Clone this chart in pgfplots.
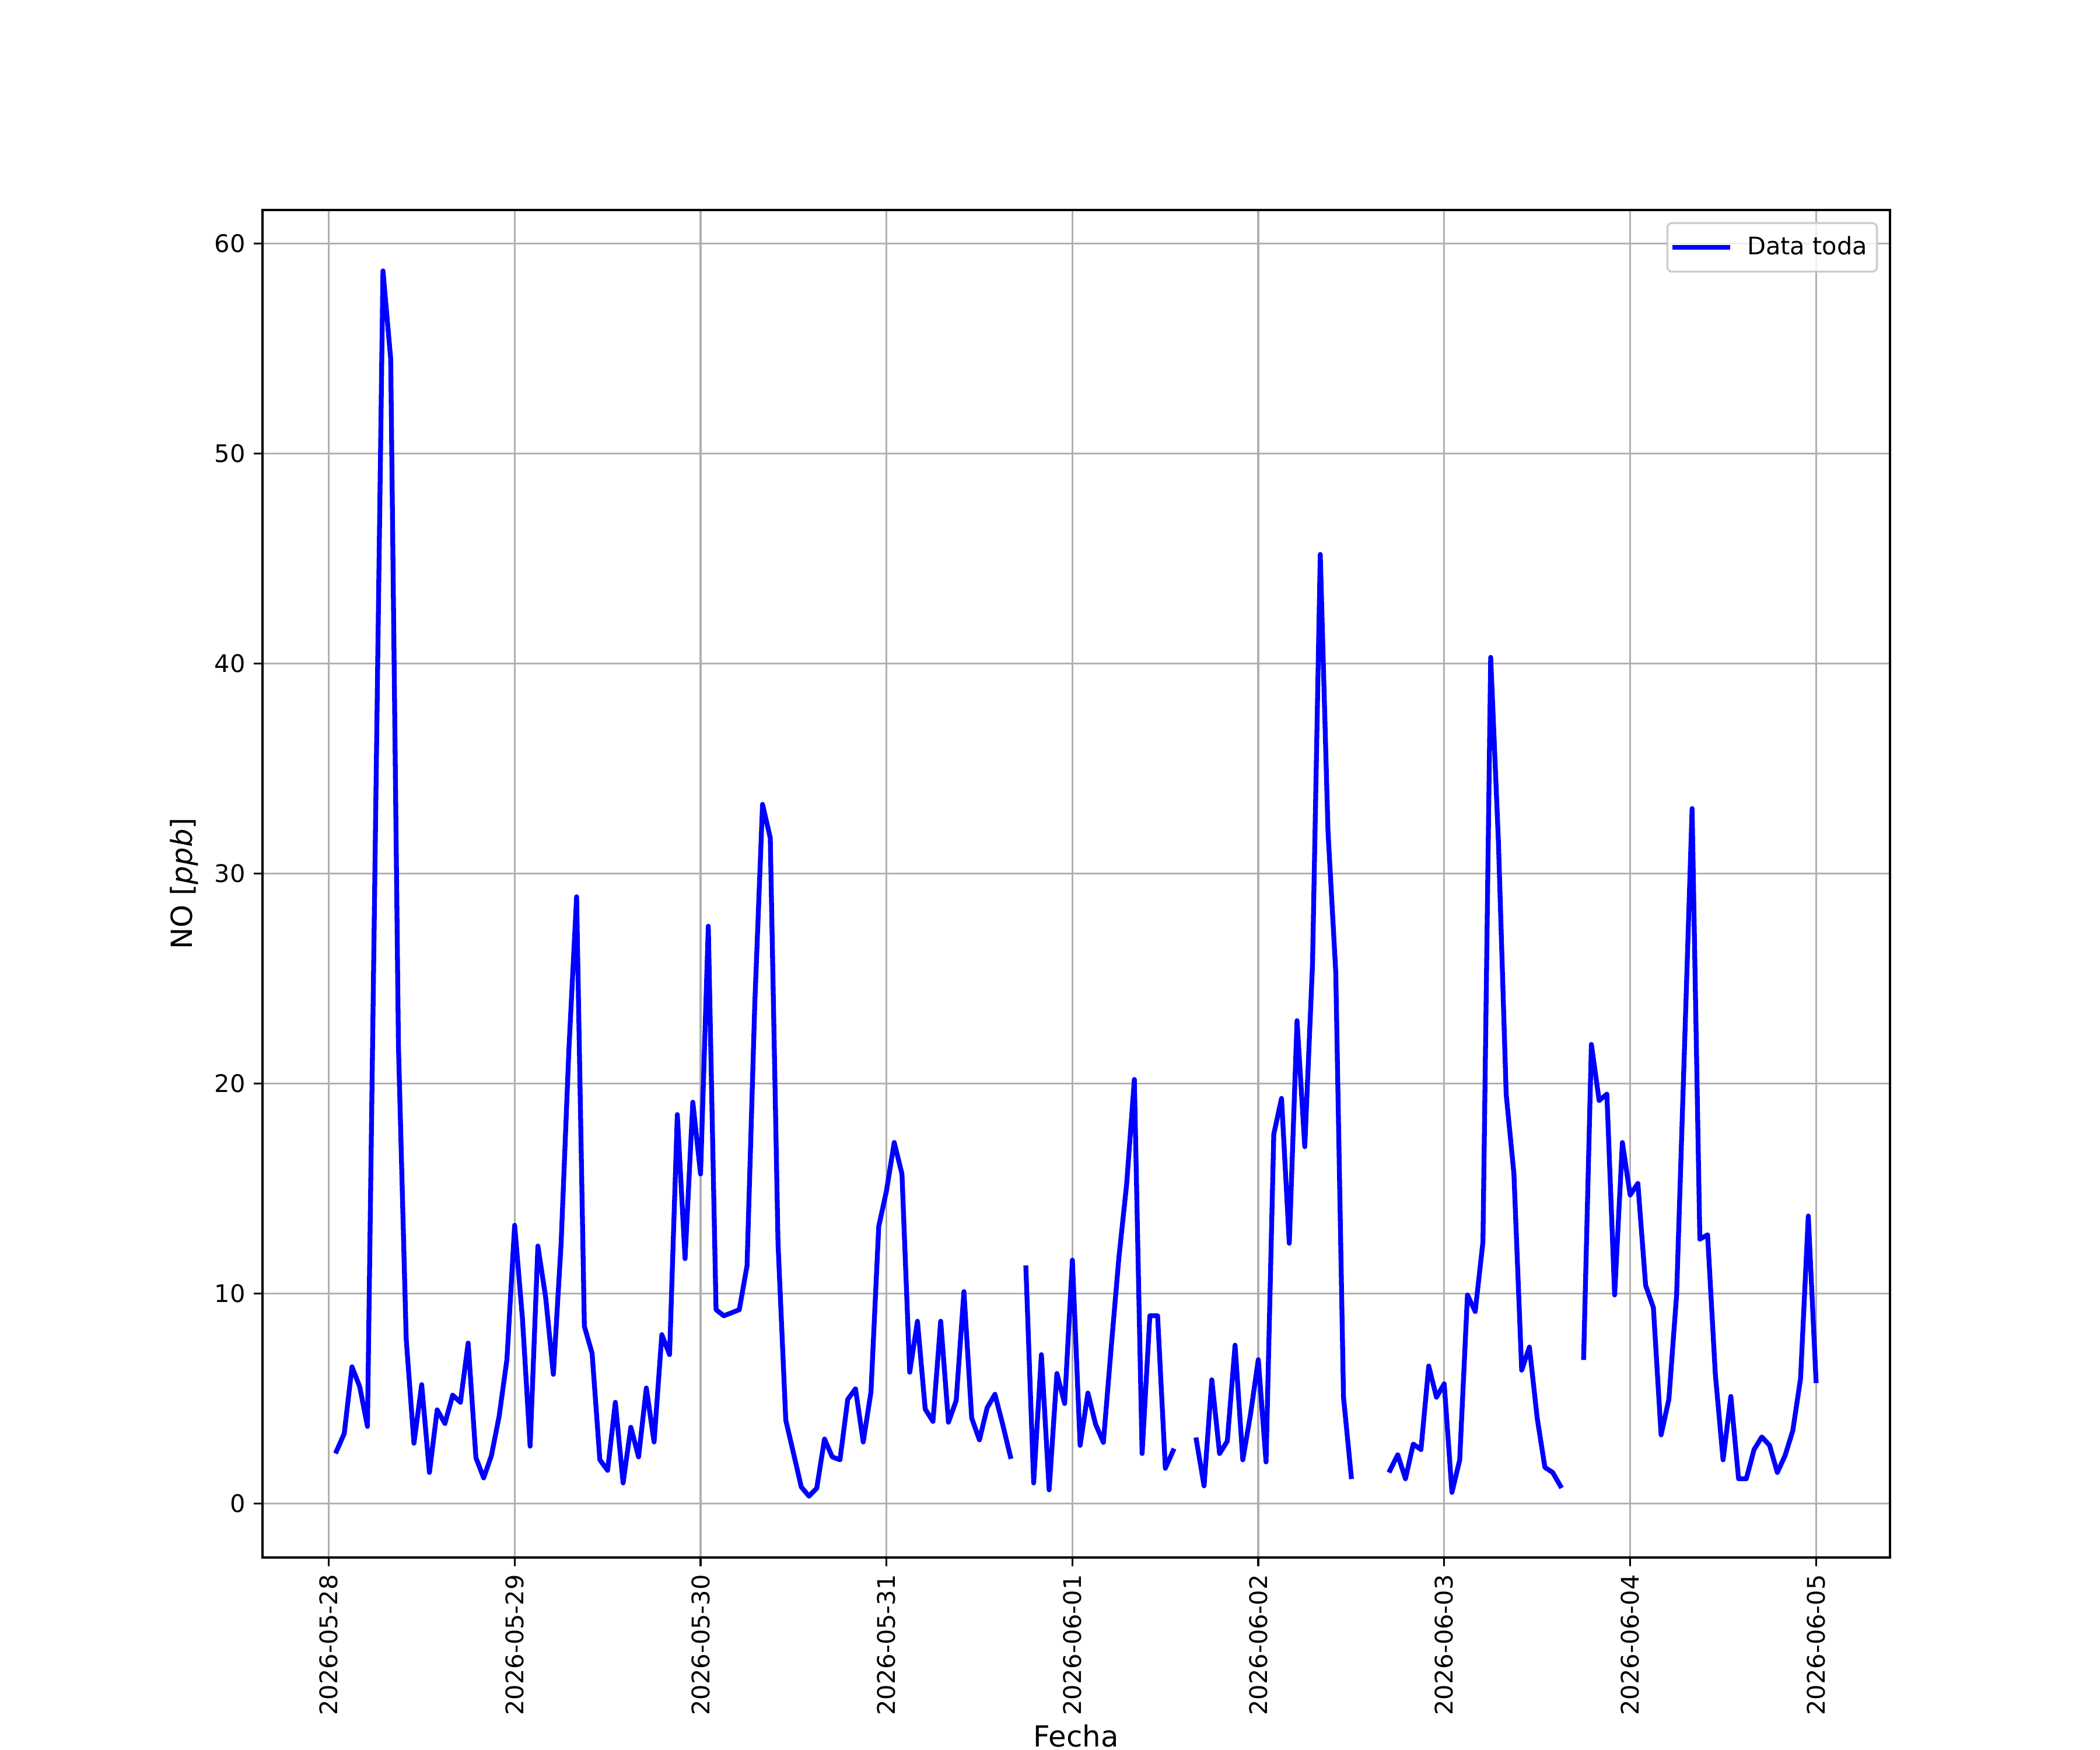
\documentclass[border=0pt]{standalone}
\usepackage{fontspec}
\setmainfont{DejaVu Sans}
\usepackage{pgfplots}
\pgfplotsset{compat=1.18}
\usepackage{pgfplotstable}

\pgfplotstableread{
h v
1 2.5
2 3.34
3 6.52
4 5.57
5 3.68
7 58.7
8 54.5
9 21.8
10 7.85
11 2.88
12 5.67
13 1.49
14 4.47
15 3.82
16 5.17
17 4.83
18 7.65
19 2.19
20 1.23
21 2.29
22 4.17
23 6.86
24 13.26
25 8.85
26 2.74
27 12.27
28 9.84
29 6.16
30 12.4
31 21.6
32 28.9
33 8.45
34 7.16
35 2.09
36 1.59
37 4.83
38 0.99
39 3.64
40 2.23
41 5.51
42 2.94
43 8.05
44 7.1
45 18.53
46 11.67
47 19.12
48 15.7
49 27.5
50 9.24
51 8.95
52 9.09
53 9.24
54 11.33
55 23.8
56 33.3
57 31.7
58 12.4
59 3.98
60 2.4
61 0.8
62 0.36
63 0.74
64 3.08
65 2.23
66 2.09
67 4.97
68 5.47
69 2.94
70 5.33
71 13.2
72 14.9
73 17.2
74 15.7
75 6.26
76 8.69
77 4.51
78 3.92
79 8.69
80 3.88
81 4.91
82 10.1
83 4.08
84 3.04
85 4.57
86 5.21
87 3.78
88 2.25
89 nan
90 11.23
91 0.99
92 7.1
93 0.66
94 6.2
95 4.77
96 11.6
97 2.78
98 5.27
99 3.78
100 2.92
101 7.4
102 11.7
103 15.2
104 20.2
105 2.39
106 8.95
107 8.95
108 1.69
109 2.52
110 nan
111 nan
112 3.04
113 0.85
114 5.9
115 2.39
116 2.98
117 7.55
118 2.09
119 4.27
120 6.86
121 1.99
122 17.6
123 19.3
124 12.4
125 23.0
126 17.0
127 25.7
128 45.2
129 32.0
130 25.3
131 5.07
132 1.29
133 nan
134 nan
135 nan
136 nan
137 1.59
138 2.33
139 1.19
140 2.84
141 2.58
142 6.56
143 5.07
144 5.71
145 0.54
146 2.09
147 9.94
148 9.15
149 12.47
150 40.3
151 31.5
152 19.5
153 15.7
154 6.36
155 7.46
156 4.08
157 1.73
158 1.49
159 0.85
160 nan
161 nan
162 6.96
163 21.87
164 19.2
165 19.5
166 9.94
167 17.2
168 14.7
169 15.25
170 10.4
171 9.34
172 3.28
173 4.97
174 9.94
175 21.5
176 33.1
177 12.6
178 12.8
179 6.16
180 2.09
181 5.11
182 1.19
183 1.19
184 2.58
185 3.18
186 2.78
187 1.49
188 2.29
189 3.48
190 5.96
191 13.7
192 5.86
}\datatable

\definecolor{gridgray}{HTML}{B0B0B0}
\definecolor{legframe}{HTML}{CCCCCC}

\begin{document}
\begin{tikzpicture}
\path[use as bounding box] (0,0) rectangle (12in,10in);
\begin{axis}[
  at={(1.5in,1.1in)}, anchor=south west,
  scale only axis, width=9.3in, height=7.7in,
  xmin=-8.55, xmax=201.55, ymin=-2.56, ymax=61.6,
  xtick={0,24,48,72,96,120,144,168,192},
  xticklabels={2026-05-28,2026-05-29,2026-05-30,2026-05-31,2026-06-01,2026-06-02,2026-06-03,2026-06-04,2026-06-05},
  ytick={0,10,20,30,40,50,60},
  /pgf/number format/assume math mode=true,
  tick pos=left,
  tick align=outside,
  major tick length=3.5pt,
  every tick/.style={black, line width=0.8pt},
  axis line style={black, line width=0.8pt},
  grid=major,
  major grid style={gridgray, line width=0.8pt},
  ticklabel style={font=\fontsize{10}{12}\selectfont},
  xticklabel style={rotate=90, anchor=east},
  label style={font=\fontsize{12}{14}\selectfont},
  xlabel={Fecha},
  xlabel style={yshift=3pt},
  ylabel={NO [\textit{ppb}]},
  legend style={at={(1,1)}, anchor=north east, xshift=-5pt, yshift=-5pt,
    draw=legframe, line width=0.8pt, rounded corners=2pt,
    fill=white, fill opacity=0.8, text opacity=1,
    font=\fontsize{10}{12}\selectfont,
    inner xsep=2pt, inner ysep=3.5pt, column sep=5pt},
  legend cell align=left,
  legend image code/.code={\draw[#1] (0pt,0pt) -- (22pt,0pt);},
]
\addplot[color=blue, line width=2pt, line join=round, line cap=rect, unbounded coords=jump] table[x=h,y=v] {\datatable};
\addlegendentry{Data toda}
\end{axis}
\end{tikzpicture}
\end{document}
